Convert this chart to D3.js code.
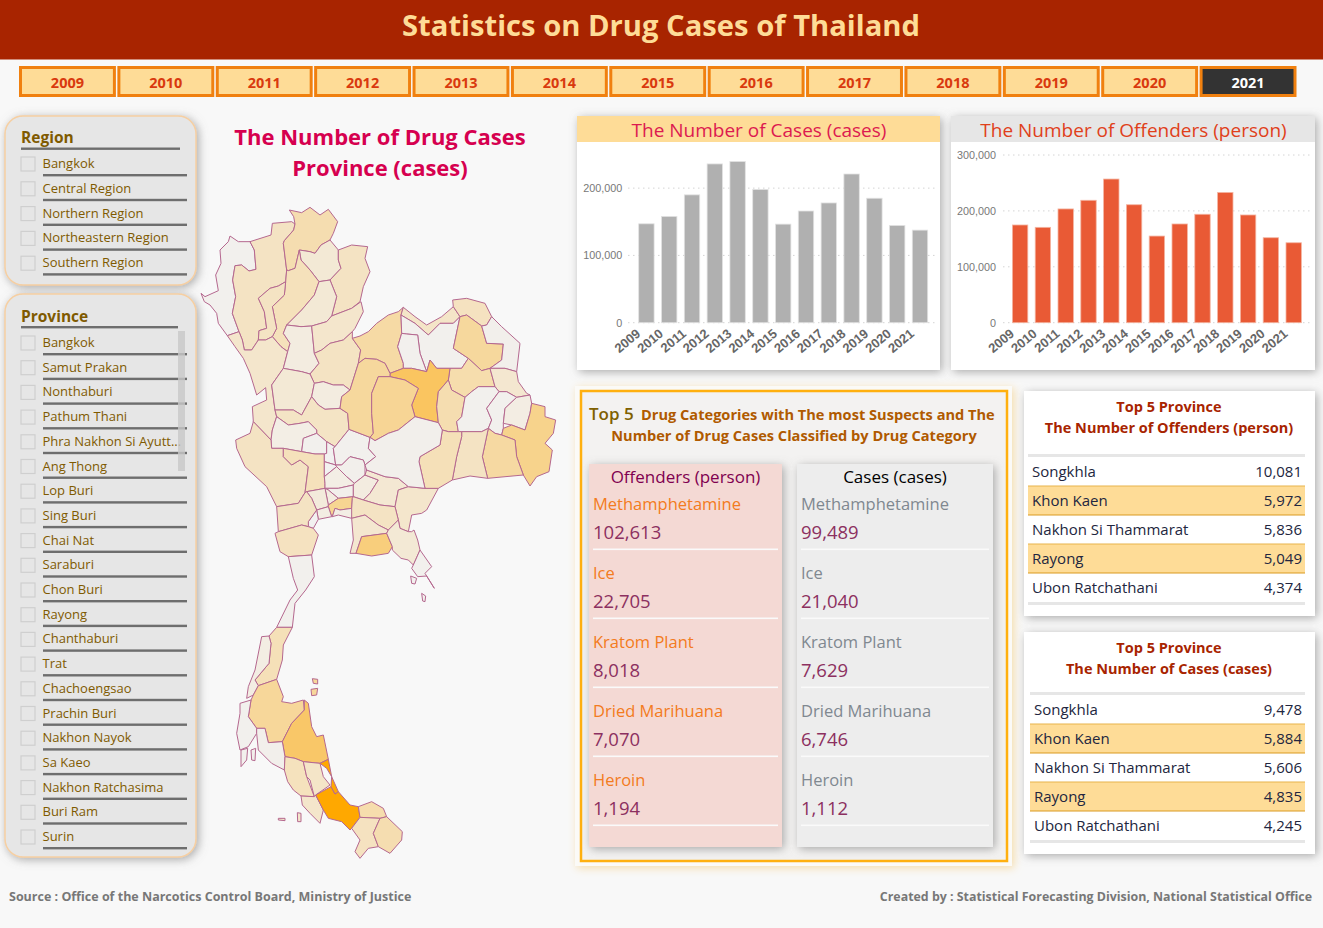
<!DOCTYPE html>
<html>
<head>
<meta charset="utf-8">
<script src="https://cdnjs.cloudflare.com/ajax/libs/d3/7.8.5/d3.min.js"></script>
<style>
  html, body { margin: 0; padding: 0; background: #f8f8f8; }
  svg { display: block; font-family: "Open Sans", "Noto Sans", sans-serif; }
</style>
</head>
<body>
<svg id="chart" width="1323" height="928"></svg>
<script>
const years = ["2009","2010","2011","2012","2013","2014","2015","2016","2017","2018","2019","2020","2021"]
const casesByYear = [147000,158000,190000,236000,239500,198000,146500,166000,178000,221000,185000,144500,137600]
const offendersByYear = [174800,170600,203500,219000,257000,211000,155000,176600,194000,233000,192700,152000,143000]
const regions = ["Bangkok","Central Region","Northern Region","Northeastern Region","Southern Region"]
const provinces = ["Bangkok","Samut Prakan","Nonthaburi","Pathum Thani","Phra Nakhon Si Ayutt...","Ang Thong","Lop Buri","Sing Buri","Chai Nat","Saraburi","Chon Buri","Rayong","Chanthaburi","Trat","Chachoengsao","Prachin Buri","Nakhon Nayok","Sa Kaeo","Nakhon Ratchasima","Buri Ram","Surin"]
const drugNames = ["Methamphetamine","Ice","Kratom Plant","Dried Marihuana","Heroin"]
const drugOffenders = [102613,22705,8018,7070,1194]
const drugCases = [99489,21040,7629,6746,1112]
const topOffenderNames = ["Songkhla","Khon Kaen","Nakhon Si Thammarat","Rayong","Ubon Ratchathani"]
const topOffenderValues = [10081,5972,5836,5049,4374]
const topCaseNames = ["Songkhla","Khon Kaen","Nakhon Si Thammarat","Rayong","Ubon Ratchathani"]
const topCaseValues = [9478,5884,5606,4835,4245]

const northRings = {
  "Mae Hong Son": [18,280,30,290,70,272,62,225,78,190,75,150,100,125,105,108,130,125,165,125,178,150,183,208,162,213,140,195,120,197,113,240,122,290,112,340,132,395,97,407,70,370,65,340,45,315,28,305],
  "Chiang Mai": [165,125,228,105,232,70,290,65,300,72,296,90,268,122,265,130,275,210,272,245,250,258,225,265,190,295,208,335,215,385,192,392,190,420,170,450,148,450,142,420,132,395,112,340,122,290,113,240,120,197,140,195,162,213,183,208,178,150],
  "Chiang Rai": [283,30,320,38,345,22,375,45,400,28,428,65,415,100,405,120,378,135,360,160,345,155,313,150,300,205,280,212,275,210,265,130,268,122,296,90,300,72,296,50],
  "Phayao": [313,150,345,155,360,160,378,135,405,120,430,150,430,180,438,205,405,240,372,245,345,210,318,180],
  "Nan": [430,150,470,135,518,140,510,175,525,215,505,260,495,305,470,325,410,348,425,290,405,240,438,205,430,180],
  "Lampang": [313,150,300,205,280,212,275,210,272,245,268,285,232,320,245,385,232,410,258,440,278,455,285,430,265,400,275,375,320,330,358,285,372,245,345,210,318,180],
  "Lamphun": [190,295,208,335,215,385,192,392,190,420,212,420,232,410,245,385,232,320,268,285,272,245,250,258,225,265],
  "Phrae": [372,245,405,240,425,290,410,348,395,365,350,378,318,380,275,375,320,330,358,285],
  "Tak": [97,407,132,395,142,420,148,450,170,450,190,420,212,420,232,410,258,440,278,455,265,505,230,555,240,630,245,650,232,690,228,720,175,665,172,620,215,600,212,563,185,585,165,520,145,475,120,440],
  "Sukhothai": [275,375,318,380,350,378,358,460,372,490,345,522,320,515,265,505,278,455,285,430,265,400],
  "Uttaradit": [350,378,395,365,410,348,470,325,498,305,505,335,480,385,472,395,445,420,405,430,380,450,358,460],
  "Phitsanulok": [358,460,380,450,405,430,445,420,472,395,472,415,497,450,490,490,465,570,445,555,415,555,385,545,358,550,345,522,372,490],
  "Kamphaeng Phet": [265,505,320,515,345,522,358,550,350,590,320,645,295,630,240,630,230,555],
  "Phichit": [358,550,385,545,415,555,445,555,465,570,440,590,435,625,390,628,370,615,350,590],
  "Nakhon Sawan": [240,630,295,630,320,645,350,590,370,615,390,628,435,625,458,640,462,688,420,740,395,725,365,700,365,690,340,665,315,670,280,675,245,650],
  "Uthai Thani": [245,650,280,675,315,670,340,665,365,690,365,700,325,715,320,755,265,745,230,745,228,720,232,690],
  "Chai Nat": [325,715,365,700,395,725,395,760,388,762,360,762,320,755],
  "Kanchanaburi": [175,665,228,720,230,745,265,745,265,770,290,795,315,780,340,800,330,878,310,910,245,920,215,860,150,800,125,745,122,720,165,700],
  "Suphan Buri": [265,745,320,755,360,762,388,762,388,785,388,830,390,850,390,865,335,875,330,878,340,800,315,780,290,795,265,770],
  "Sing Buri": [395,725,420,740,415,745,422,795,388,785,388,762,395,760],
  "Ang Thong": [388,785,422,795,425,800,388,830],
  "Lop Buri": [415,745,420,740,462,688,525,712,520,745,542,770,510,795,505,780,465,770,440,795,422,795],
  "Saraburi": [425,800,422,795,440,795,465,770,505,780,510,795,510,825,478,850,455,830],
  "Ayutthaya": [388,830,425,800,455,830,478,850,475,855,430,865,390,865,390,850],
  "Pathum Thani": [390,865,430,865,475,855,475,890,430,895,400,870],
  "Nonthaburi": [390,865,400,870,430,895,400,915],
  "Nakhon Pathom": [335,875,390,865,400,915,400,920,365,930,350,895],
  "Bangkok": [400,915,430,895,475,890,472,895,470,925,435,930,420,925,412,950,410,950,400,920],
  "Samut Prakan": [412,950,420,925,435,930,470,925,475,935,470,955,430,945],
  "Samut Sakhon": [365,930,400,920,410,950,370,958],
  "Samut Songkhram": [365,930,370,958,355,985,340,980,340,965],
  "Ratchaburi": [245,920,310,910,330,878,335,875,350,895,365,930,340,965,340,980,320,975,250,995],
  "Nakhon Nayok": [478,850,510,825,550,840,525,880,505,900,475,890,475,855],
  "Prachin Buri": [505,900,525,880,550,840,510,825,515,810,570,830,610,835,640,860,610,870,600,920,555,915],
  "Sa Kaeo": [610,870,640,860,690,865,730,865,695,930,680,940,650,945,640,995,615,985,610,960,600,920],
  "Chachoengsao": [472,895,475,890,505,900,555,915,600,920,610,960,580,990,550,975,510,945,470,955,470,925],
  "Loei": [472,415,495,408,520,395,545,370,580,345,610,335,625,322,618,345,620,400,608,440,625,490,625,505,585,520,570,490,545,478,510,475,490,490,497,450],
  "Nong Khai": [625,322,660,350,695,375,740,350,775,320,795,350,775,370,735,370,700,405,660,370,618,345],
  "Udon Thani": [618,345,660,370,700,405,735,370,775,370,795,350,775,445,820,475,800,505,765,505,725,505,705,480,695,515,675,460,668,405,635,402,620,400],
  "Nong Bua Lamphu": [635,402,668,405,675,460,695,515,650,505,625,505,625,490,608,440,620,400],
  "Bueng Kan": [773,300,815,295,870,310,890,350,875,375,860,378,815,345,795,350,775,320],
  "Sakon Nakhon": [795,350,815,345,860,378,875,430,925,432,920,480,885,505,860,512,820,475,775,445],
  "Nakhon Phanom": [860,378,875,375,890,350,920,380,975,430,965,515,930,505,885,505,920,480,925,432,875,430],
  "Kalasin": [765,505,800,505,820,475,860,512,885,505,900,560,850,560,830,575,810,592,770,570,760,540],
  "Mukdahan": [885,505,930,505,965,515,970,545,995,580,1005,585,965,592,935,575,912,575,900,560],
  "Khon Kaen": [585,520,625,505,650,505,695,515,705,480,725,505,765,505,760,540,730,575,725,620,730,668,660,650,650,615,670,565,630,540,585,530],
  "Phetchabun": [490,490,510,475,545,478,570,490,585,520,585,530,550,530,530,580,530,640,535,700,525,712,462,688,458,640,435,625,440,590,465,570],
  "Chaiyaphum": [550,530,585,530,630,540,670,565,650,615,660,650,610,690,580,700,540,722,525,712,535,700,530,640,530,580],
  "Maha Sarakham": [730,575,760,540,770,570,810,592,800,650,785,665,790,695,760,695,742,690,730,668,725,620],
  "Roi Et": [810,592,830,575,850,560,900,560,912,575,875,625,890,660,880,685,860,695,800,695,790,695,785,665,800,650],
  "Yasothon": [912,575,935,575,965,592,930,625,925,670,925,685,920,705,900,700,880,685,890,660,875,625],
  "Amnat Charoen": [965,592,1005,585,1010,610,1005,640,990,690,950,675,925,670,930,625],
  "Ubon Ratchathani": [1010,610,1050,620,1050,650,1082,660,1075,700,1050,730,1072,750,1062,815,1025,830,1005,858,985,825,965,770,960,720,920,705,925,685,950,675,990,690,1005,640],
  "Si Sa Ket": [880,685,900,700,920,705,960,720,965,770,985,825,878,835,862,770],
  "Surin": [800,695,860,695,880,685,862,770,878,835,825,828,772,840,785,770,800,710],
  "Buri Ram": [742,690,760,695,790,695,800,695,800,710,785,770,772,840,730,865,690,865,672,785,675,770,735,735],
  "Nakhon Ratchasima": [525,712,540,722,580,700,610,690,660,650,730,668,742,690,735,735,675,770,672,785,690,865,640,860,610,835,570,830,515,810,510,795,542,770,520,745]
}
const southRings = {
  "Phetchaburi": [240,40,250,35,320,15,340,20,355,25,370,45,350,105,280,110,255,95],
  "Prachuap Khiri Khan": [280,110,350,105,358,170,332,210,300,250,292,322,245,322,285,240,308,210,295,175],
  "Chumphon": [245,322,292,322,265,375,262,420,245,478,190,497,180,480,222,430,228,370,222,348],
  "Ranong": [200,350,222,348,228,370,222,430,180,480,190,497,175,525,155,535,160,500,180,450],
  "Surat Thani": [190,497,245,478,265,530,260,545,290,550,325,540,328,570,290,610,262,665,220,668,210,625,185,625,160,590,168,540,175,525],
  "Nakhon Si Thammarat": [328,540,340,550,350,620,365,650,385,645,400,718,375,730,325,725,300,715,270,710,262,665,290,610,328,570],
  "Phang Nga": [135,550,168,540,160,590,185,625,185,640,160,680,135,690,125,640,135,580],
  "Krabi": [185,625,210,625,220,668,262,665,270,710,268,750,230,730,190,690,185,640],
  "Phuket": [138,690,158,685,155,720,138,740],
  "Trang": [270,710,300,715,325,725,335,770,358,830,318,828,295,810,278,785,268,750],
  "Phatthalung": [325,725,375,730,385,770,405,795,362,825,358,830,345,780,335,770],
  "Satun": [318,828,358,830,362,825,385,870,375,910,345,880,322,855],
  "Songkhla": [362,825,408,800,420,822,430,815,465,855,490,860,495,892,470,925,465,930,440,905,400,895,385,870],
  "Songkhla Strip": [375,730,400,718,410,770,430,815,420,822,408,800,410,770,395,745],
  "Pattani": [490,860,530,845,565,865,575,890,555,895,495,892],
  "Yala": [470,925,495,892,555,895,535,940,550,980,520,985,495,1015,480,995,495,960],
  "Narathiwat": [575,890,622,935,620,960,585,1000,550,980,535,940,555,895],
  "Chon Buri": [470,-5,510,-15,550,15,580,30,575,40,500,50,483,100,465,100,475,60],
  "Rayong": [483,100,500,50,575,40,592,80,580,100,530,108],
  "Chanthaburi": [580,30,610,0,615,25,640,35,650,35,657,30,668,60,675,90,655,135,640,120,618,115,592,90,592,80,575,40],
  "Trat": [675,90,710,140,690,160,718,205,695,168,668,170,650,145,655,135],
  "Ko Samui": [352,476,368,478,368,492,355,490],
  "Ko Phangan": [348,508,368,505,365,525,350,527],
  "Ko Tarutao": [307,878,318,880,318,905,308,905],
  "Ko Chang": [647,168,665,175,660,192,650,190],
  "Ko Kut": [680,220,692,228,690,245,683,243],
  "Ko Lanta": [168,690,182,685,180,722,170,720],
  "Ko Lipe": [250,895,270,895,270,902,250,900]
}
// estimated from the fill of each province, only the top five are printed in the picture
const mapCases = {
  "Mae Hong Son":600,"Chiang Mai":2200,"Chiang Rai":2900,"Phayao":1500,"Nan":2200,"Lampang":2500,"Lamphun":2200,"Phrae":1500,"Tak":1850,"Sukhothai":1100,
  "Uttaradit":1850,"Phitsanulok":2200,"Kamphaeng Phet":1500,"Phichit":1100,"Nakhon Sawan":2100,"Uthai Thani":900,"Chai Nat":600,"Kanchanaburi":2200,"Suphan Buri":2500,
  "Sing Buri":500,"Ang Thong":500,"Lop Buri":600,"Saraburi":700,"Ayutthaya":900,"Pathum Thani":700,"Nakhon Pathom":1300,"Nonthaburi":1100,"Bangkok":4000,"Samut Prakan":900,
  "Samut Sakhon":1000,"Samut Songkhram":500,"Ratchaburi":2200,"Nakhon Nayok":1100,"Prachin Buri":1600,"Sa Kaeo":1850,"Chachoengsao":2200,"Loei":3300,"Nong Khai":2000,
  "Udon Thani":600,"Nong Bua Lamphu":600,"Bueng Kan":2300,"Sakon Nakhon":3600,"Nakhon Phanom":700,"Kalasin":3000,"Mukdahan":1700,"Khon Kaen":5884,"Phetchabun":3600,
  "Chaiyaphum":3900,"Maha Sarakham":2900,"Roi Et":600,"Yasothon":600,"Amnat Charoen":1000,"Ubon Ratchathani":4245,"Si Sa Ket":3400,"Surin":2200,"Buri Ram":2600,"Nakhon Ratchasima":700,
  "Phetchaburi":2300,"Prachuap Khiri Khan":600,"Chumphon":2600,"Ranong":1000,"Surat Thani":3700,"Nakhon Si Thammarat":5606,"Phang Nga":600,"Krabi":700,"Phuket":600,"Trang":2400,
  "Phatthalung":2000,"Satun":1900,"Songkhla":9478,"Songkhla Strip":9478,"Pattani":3000,"Yala":2300,"Narathiwat":2900,"Chon Buri":1700,"Rayong":4835,"Chanthaburi":1500,"Trat":600,
  "Ko Samui":3700,"Ko Phangan":3700,"Ko Tarutao":1900,"Ko Chang":600,"Ko Kut":600,"Ko Lanta":700,"Ko Lipe":1900
}

const svg = d3.select("#chart")

const defs = svg.append("defs")
function addShadow(id, dev, color, op) {
  const f = defs.append("filter").attr("id", id)
    .attr("x", "-15%").attr("y", "-15%").attr("width", "130%").attr("height", "130%")
  f.append("feDropShadow").attr("dx", 2).attr("dy", 2)
    .attr("stdDeviation", dev).attr("flood-color", color).attr("flood-opacity", op)
}
addShadow("shadow", 5, "#777", 0.6)
addShadow("glow", 4, "#f5d9a0", 0.9)

function label(g, x, y, str, size, color, opts) {
  opts = opts || {}
  return g.append("text")
    .attr("x", x).attr("y", y).text(str)
    .attr("font-size", size).attr("fill", color)
    .attr("font-weight", opts.weight || 400)
    .attr("text-anchor", opts.anchor || "start")
}

svg.append("rect").attr("width", 1323).attr("height", 928).attr("fill", "#f8f8f8")

// header
svg.append("rect").attr("width", 1323).attr("height", 59.5).attr("fill", "#a82400")
label(svg, 661, 36, "Statistics on Drug Cases of Thailand", 29.2, "#fedc97", {weight: 700, anchor: "middle"})

// year buttons
const xButton = d3.scaleBand().domain(years).range([19, 1296.5]).paddingInner(0.015)
const btn = svg.append("g").selectAll("g").data(years).join("g")
btn.append("rect")
  .attr("x", d => xButton(d) + 1.5).attr("y", 67.5)
  .attr("width", xButton.bandwidth() - 3).attr("height", 28)
  .attr("fill", d => d == "2021" ? "#333" : "#fedc97")
  .attr("stroke", "#f0800f").attr("stroke-width", 3)
btn.append("text")
  .attr("x", d => xButton(d) + xButton.bandwidth() / 2).attr("y", 88)
  .attr("text-anchor", "middle").attr("font-size", 14.5).attr("font-weight", 700)
  .attr("fill", d => d == "2021" ? "#fff" : "#d9390e")
  .text(d => d)

// slicers
function slicer(title, items, boxY, boxH, titleY, lineY, firstY, step, lineEnd) {
  const g = svg.append("g")
  g.append("rect").attr("x", 5).attr("y", boxY).attr("width", 191).attr("height", boxH)
    .attr("rx", 18).attr("fill", "#e6e6e6").attr("stroke", "#f6cfa2").attr("stroke-width", 1.5)
    .attr("filter", "url(#shadow)")
  label(g, 21, titleY, title, 15.5, "#7f5a00", {weight: 700})
  g.append("rect").attr("x", 21).attr("y", lineY).attr("width", lineEnd - 21).attr("height", 2.4).attr("fill", "#6e6e6e")
  items.forEach((d, i) => {
    const cy = firstY + i * step
    g.append("rect").attr("x", 21).attr("y", cy - 7).attr("width", 14).attr("height", 14)
      .attr("fill", "none").attr("stroke", "#cfcfcf").attr("stroke-width", 1.2)
    label(g, 42.5, cy + 4, d, 13, "#7f5a00")
    g.append("rect").attr("x", 43).attr("y", cy + 10).attr("width", 144).attr("height", 2.4).attr("fill", "#6e6e6e")
  })
  return g
}
slicer("Region", regions, 116, 169, 143, 147.5, 164, 24.8, 180)
const pg = slicer("Province", provinces, 294, 563, 322, 326, 343, 24.7, 178)
pg.append("rect").attr("x", 178).attr("y", 331).attr("width", 7).attr("height", 140).attr("fill", "#c8c8c8").attr("opacity", 0.8)

// map
label(svg, 380, 145, "The Number of Drug Cases", 22, "#d6004f", {weight: 700, anchor: "middle"})
label(svg, 380, 176, "Province (cases)", 22, "#d6004f", {weight: 700, anchor: "middle"})

const xMap = d3.scaleLinear().domain([0, 1110]).range([195, 565])
const yNorth = d3.scaleLinear().domain([0, 1020]).range([200, 540])
const ySouth = d3.scaleLinear().domain([0, 1035]).range([520, 865])
const mapColor = d3.scaleLinear().domain([500, 9478]).range(["#f2f1f0", "#ffa800"])

function pairs(flat) {
  return d3.range(0, flat.length, 2).map(i => [flat[i], flat[i + 1]])
}
function drawRings(rings, yScale) {
  const line = d3.line().x(p => xMap(p[0])).y(p => yScale(p[1])).curve(d3.curveLinearClosed)
  svg.append("g").selectAll("path").data(Object.keys(rings)).join("path")
    .attr("d", d => line(pairs(rings[d])))
    .attr("fill", d => mapColor(mapCases[d]))
    .attr("stroke", "#b5688f").attr("stroke-width", 1).attr("stroke-linejoin", "round")
}
drawRings(northRings, yNorth)
drawRings(southRings, ySouth)

// bar charts
function barChart(opts) {
  const g = svg.append("g")
  g.append("rect").attr("x", opts.left).attr("y", 116).attr("width", opts.width).attr("height", 254)
    .attr("fill", "#fff").attr("filter", "url(#shadow)")
  g.append("rect").attr("x", opts.left).attr("y", 116).attr("width", opts.width).attr("height", 26).attr("fill", opts.headFill)
  label(g, opts.left + opts.width / 2 + 0.5, 137, opts.title, 19, opts.titleColor, {anchor: "middle"})

  const x = d3.scaleBand().domain(years).range(opts.xRange).padding(0.325)
  const y = d3.scaleLinear().domain(opts.yDomain).range([322.7, opts.yTop])

  const yAxis = g.append("g").attr("transform", `translate(${opts.xRange[0]},0)`)
    .call(d3.axisLeft(y).tickValues(opts.ticks).tickFormat(d3.format(",")).tickSize(0).tickPadding(9))
  yAxis.select(".domain").remove()
  yAxis.selectAll("text").attr("font-size", 10.8).attr("fill", "#777").attr("font-family", "inherit")

  g.append("g").selectAll("line").data(opts.ticks).join("line")
    .attr("x1", opts.gridX[0]).attr("x2", opts.gridX[1])
    .attr("y1", d => y(d)).attr("y2", d => y(d))
    .attr("stroke", "#d4d4d4").attr("stroke-dasharray", "1.5,3.5")

  g.append("g").selectAll("rect").data(opts.values).join("rect")
    .attr("x", (d, i) => x(years[i])).attr("y", d => y(d))
    .attr("width", x.bandwidth()).attr("height", d => y(0) - y(d))
    .attr("fill", opts.color).attr("stroke", opts.edge).attr("stroke-width", 0.8)

  const xAxis = g.append("g").attr("transform", "translate(0,322.7)")
    .call(d3.axisBottom(x).tickSize(0))
  xAxis.select(".domain").remove()
  xAxis.selectAll("text")
    .attr("font-size", 13).attr("font-weight", 700).attr("fill", "#666").attr("font-family", "inherit")
    .attr("text-anchor", "end")
    .attr("dy", 0)
    .attr("transform", `translate(${opts.labelShift},10) rotate(-40)`)
}
barChart({
  left: 577, width: 363, title: "The Number of Cases (cases)", headFill: "#fedc97", titleColor: "#dc1a50",
  values: casesByYear, color: "#b0b0b0", edge: "#e2e2e2",
  xRange: [631.3, 935.1], yDomain: [0, 250000], yTop: 154.5, ticks: [0, 100000, 200000],
  gridX: [628, 937], labelShift: -7
})
barChart({
  left: 951, width: 364, title: "The Number of Offenders (person)", headFill: "#e6e6e6", titleColor: "#e0401a",
  values: offendersByYear, color: "#e95a35", edge: "#f4b5a2",
  xRange: [1005, 1308.8], yDomain: [0, 300000], yTop: 155, ticks: [0, 100000, 200000, 300000],
  gridX: [1003, 1313], labelShift: -7
})

// top 5 drug panel
const dp = svg.append("g")
dp.append("rect").attr("x", 575).attr("y", 386).attr("width", 437).attr("height", 480).attr("fill", "#fbfaf7").attr("filter", "url(#glow)")
dp.append("rect").attr("x", 581).attr("y", 391).attr("width", 426).attr("height", 470)
  .attr("fill", "#f3f2f1").attr("stroke", "#ffb00f").attr("stroke-width", 2.5)
label(dp, 589, 420, "Top 5", 17, "#7f6000", {weight: 600})
label(dp, 641, 420, "Drug Categories with The most Suspects and The", 14.6, "#b05a00", {weight: 700})
label(dp, 794, 441, "Number of Drug Cases Classified by Drug Category", 14.6, "#b05a00", {weight: 700, anchor: "middle"})

function drugColumn(left, width, fill, head, headColor, nameColor, values) {
  dp.append("rect").attr("x", left).attr("y", 464).attr("width", width).attr("height", 383)
    .attr("fill", fill).attr("filter", "url(#shadow)")
  label(dp, left + width / 2, 483, head, 17, headColor, {anchor: "middle"})
  drugNames.forEach((d, i) => {
    const y0 = i * 69
    label(dp, left + 4, 510 + y0, d, 16.5, nameColor)
    label(dp, left + 4, 539 + y0, d3.format(",")(values[i]), 18.5, "#8c3060")
    dp.append("rect").attr("x", left + 4).attr("y", 548.5 + y0).attr("width", width - 8).attr("height", 1.6).attr("fill", "#fafafa")
  })
}
drugColumn(589, 193, "#f4d9d4", "Offenders (person)", "#800050", "#f37b20", drugOffenders)
drugColumn(797, 196, "#ededed", "Cases (cases)", "#000", "#808890", drugCases)

// top 5 province tables
function topTable(top, height, title, names, values, tableY, left) {
  const g = svg.append("g")
  g.append("rect").attr("x", 1024).attr("y", top).attr("width", 291).attr("height", height)
    .attr("fill", "#fff").attr("filter", "url(#shadow)")
  label(g, 1169, top + 21, "Top 5 Province", 14.5, "#a82400", {weight: 700, anchor: "middle"})
  label(g, 1169, top + 42, title, 14.5, "#a82400", {weight: 700, anchor: "middle"})
  g.append("rect").attr("x", left).attr("y", tableY - 3).attr("width", 1305 - left).attr("height", 3).attr("fill", "#e6e6e6")
  names.forEach((d, i) => {
    const y0 = tableY + i * 29
    if (i % 2 == 1) {
      g.append("rect").attr("x", left).attr("y", y0).attr("width", 1305 - left).attr("height", 29).attr("fill", "#fedc97")
      g.append("rect").attr("x", left).attr("y", y0 - 0.5).attr("width", 1305 - left).attr("height", 1).attr("fill", "#e8b44c")
      g.append("rect").attr("x", left).attr("y", y0 + 28.5).attr("width", 1305 - left).attr("height", 1).attr("fill", "#d99a20")
    }
    label(g, left + 4, y0 + 19.5, d, 15, "#222640")
    label(g, 1302, y0 + 19.5, d3.format(",")(values[i]), 15, "#222640", {anchor: "end"})
  })
  g.append("rect").attr("x", left).attr("y", tableY + 145).attr("width", 1305 - left).attr("height", 3).attr("fill", "#e6e6e6")
}
topTable(391, 225, "The Number of Offenders (person)", topOffenderNames, topOffenderValues, 457, 1028)
topTable(632, 222, "The Number of Cases (cases)", topCaseNames, topCaseValues, 695, 1030)

// footer
label(svg, 9, 901, "Source : Office of the Narcotics Control Board, Ministry of Justice", 12.5, "#777", {weight: 700})
label(svg, 1312, 901, "Created by : Statistical Forecasting Division, National Statistical Office", 12.4, "#777", {weight: 700, anchor: "end"})
</script>
</body>
</html>
